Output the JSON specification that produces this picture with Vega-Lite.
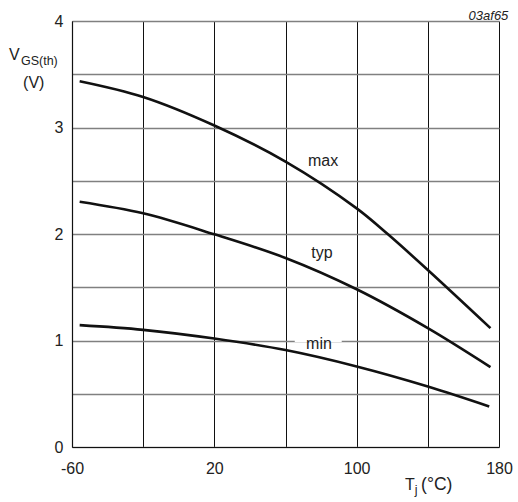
{
  "$schema": "https://vega.github.io/schema/vega-lite/v6.json",
  "width": 427,
  "height": 426,
  "autosize": {"type": "none"},
  "padding": {"left": 72, "top": 21, "right": 19, "bottom": 55},
  "background": "white",
  "config": {"view": {"stroke": null}, "font": "Liberation Sans"},
  "title": {"text": "03af65", "anchor": "end", "fontStyle": "italic", "fontWeight": "normal", "fontSize": 13, "color": "#222", "offset": 3, "dx": -4, "dy": 13},
  "layer": [
    {
      "data": {"values": [
        {"curve": "max", "T": -55.7, "V": 3.435},
        {"curve": "max", "T": -20, "V": 3.287},
        {"curve": "max", "T": 20, "V": 3.019},
        {"curve": "max", "T": 60, "V": 2.68},
        {"curve": "max", "T": 100, "V": 2.241},
        {"curve": "max", "T": 117.6, "V": 1.997},
        {"curve": "max", "T": 140, "V": 1.662},
        {"curve": "max", "T": 175.2, "V": 1.116},
        {"curve": "typ", "T": -55.7, "V": 2.303},
        {"curve": "typ", "T": -20, "V": 2.194},
        {"curve": "typ", "T": 20, "V": 1.997},
        {"curve": "typ", "T": 60, "V": 1.775},
        {"curve": "typ", "T": 100, "V": 1.481},
        {"curve": "typ", "T": 140, "V": 1.116},
        {"curve": "typ", "T": 175.2, "V": 0.75},
        {"curve": "min", "T": -55.7, "V": 1.144},
        {"curve": "min", "T": -20, "V": 1.1},
        {"curve": "min", "T": 20, "V": 1.018},
        {"curve": "min", "T": 60, "V": 0.91},
        {"curve": "min", "T": 100, "V": 0.756},
        {"curve": "min", "T": 140, "V": 0.568},
        {"curve": "min", "T": 174.5, "V": 0.381}
      ]},
      "mark": {"type": "line", "interpolate": "catmull-rom", "strokeWidth": 2.6, "color": "#111"},
      "encoding": {
        "x": {"field": "T", "type": "quantitative", "scale": {"domain": [-60, 180], "nice": false, "zero": false},
          "axis": {"values": [-60, -20, 20, 60, 100, 140, 180], "labelExpr": "indexof([-60,20,100,180], datum.value) >= 0 ? toString(datum.value) : ''", "title": null, "ticks": false, "tickSize": 0, "labelPadding": 13, "labelFontSize": 16, "labelColor": "#222", "labelFlush": false, "labelOverlap": false, "domainColor": "#111", "domainWidth": 1.2, "grid": true, "gridColor": "#111", "gridWidth": 1, "gridOpacity": 1}},
        "y": {"field": "V", "type": "quantitative", "scale": {"domain": [0, 4], "nice": false},
          "axis": {"values": [0, 0.5, 1, 1.5, 2, 2.5, 3, 3.5, 4], "labelExpr": "datum.value % 1 == 0 ? toString(datum.value) : ''", "title": null, "ticks": false, "tickSize": 0, "labelPadding": 9, "labelFontSize": 16, "labelColor": "#222", "labelFlush": false, "labelOverlap": false, "domainColor": "#111", "domainWidth": 1.2, "grid": true, "gridColor": "#808080", "gridWidth": 1.3, "gridOpacity": 1}},
        "detail": {"field": "curve"}
      }
    },
    {
      "data": {"values": [{"t1": 65.2, "t2": 91.6, "v": 1}]},
      "mark": {"type": "rule", "color": "white", "strokeWidth": 3},
      "encoding": {"x": {"field": "t1", "type": "quantitative"}, "x2": {"field": "t2"}, "y": {"field": "v", "type": "quantitative"}}
    },
    {
      "data": {"values": [
        {"label": "max", "t": 81.1, "v": 2.638},
        {"label": "typ", "t": 80.5, "v": 1.775},
        {"label": "min", "t": 78.8, "v": 0.92}
      ]},
      "mark": {"type": "text", "fontSize": 16, "align": "center", "baseline": "alphabetic", "color": "#222"},
      "encoding": {"x": {"field": "t", "type": "quantitative"}, "y": {"field": "v", "type": "quantitative"}, "text": {"field": "label"}}
    },
    {
      "data": {"values": [
        {"label": "V", "t": -95.4, "v": 3.634},
        {"label": "(V)", "t": -87.5, "v": 3.371},
        {"label": "T", "t": 127.2, "v": -0.404}
      ]},
      "mark": {"type": "text", "fontSize": 16, "align": "left", "baseline": "alphabetic", "color": "#222"},
      "encoding": {"x": {"field": "t", "type": "quantitative"}, "y": {"field": "v", "type": "quantitative"}, "text": {"field": "label"}}
    },
    {
      "data": {"values": [
        {"label": "(°C)", "t": 136.2, "v": -0.404}
      ]},
      "mark": {"type": "text", "fontSize": 17.5, "align": "left", "baseline": "alphabetic", "color": "#222"},
      "encoding": {"x": {"field": "t", "type": "quantitative"}, "y": {"field": "v", "type": "quantitative"}, "text": {"field": "label"}}
    },
    {
      "data": {"values": [
        {"label": "GS(th)", "t": -88.7, "v": 3.587},
        {"label": "j", "t": 132.6, "v": -0.441}
      ]},
      "mark": {"type": "text", "fontSize": 12.5, "align": "left", "baseline": "alphabetic", "color": "#222"},
      "encoding": {"x": {"field": "t", "type": "quantitative"}, "y": {"field": "v", "type": "quantitative"}, "text": {"field": "label"}}
    }
  ]
}
